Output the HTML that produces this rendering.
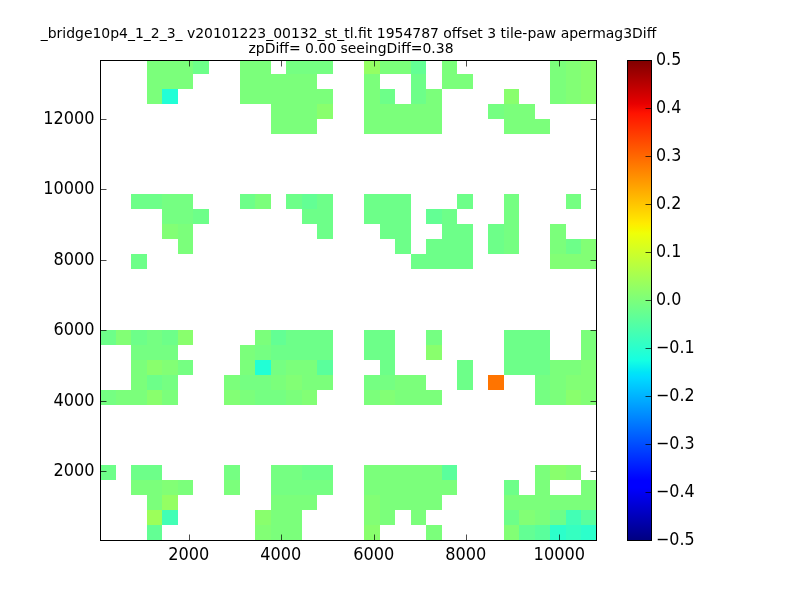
<!DOCTYPE html>
<html><head><meta charset="utf-8"><title>plot</title>
<style>html,body{margin:0;padding:0;background:#fff;width:800px;height:600px;overflow:hidden}</style></head>
<body>
<svg width="800" height="600" viewBox="0 0 800 600" style="position:absolute;left:0;top:0">
<defs><linearGradient id="jet" x1="0" y1="0" x2="0" y2="1"><stop offset="0.0000" stop-color="#800000"/><stop offset="0.0900" stop-color="#e80000"/><stop offset="0.1100" stop-color="#ff1300"/><stop offset="0.3400" stop-color="#ffec00"/><stop offset="0.3500" stop-color="#f7f600"/><stop offset="0.3600" stop-color="#efff08"/><stop offset="0.6250" stop-color="#15ffe2"/><stop offset="0.6500" stop-color="#00e5f7"/><stop offset="0.6600" stop-color="#00dbff"/><stop offset="0.8750" stop-color="#0000ff"/><stop offset="0.8900" stop-color="#0000ff"/><stop offset="1.0000" stop-color="#000080"/></linearGradient><clipPath id="ax"><rect x="100" y="60" width="496" height="480"/></clipPath></defs>
<g clip-path="url(#ax)"><rect x="147" y="60" width="15" height="14" fill="#7bff7b"/><rect x="162" y="60" width="16" height="14" fill="#7bff7b"/><rect x="178" y="60" width="15" height="14" fill="#7bff7b"/><rect x="193" y="60" width="16" height="14" fill="#6dff89"/><rect x="240" y="60" width="15" height="14" fill="#7bff7b"/><rect x="255" y="60" width="16" height="14" fill="#7bff7b"/><rect x="286" y="60" width="16" height="14" fill="#75ff82"/><rect x="302" y="60" width="15" height="14" fill="#75ff82"/><rect x="317" y="60" width="16" height="14" fill="#75ff82"/><rect x="364" y="60" width="16" height="14" fill="#94ff63"/><rect x="380" y="60" width="15" height="14" fill="#7bff7b"/><rect x="395" y="60" width="16" height="14" fill="#7bff7b"/><rect x="411" y="60" width="15" height="14" fill="#63ff94"/><rect x="442" y="60" width="15" height="14" fill="#7bff7b"/><rect x="550" y="60" width="16" height="14" fill="#7bff7b"/><rect x="566" y="60" width="15" height="14" fill="#82ff75"/><rect x="581" y="60" width="15" height="14" fill="#89ff6d"/><rect x="147" y="74" width="15" height="15" fill="#7bff7b"/><rect x="162" y="74" width="16" height="15" fill="#7bff7b"/><rect x="178" y="74" width="15" height="15" fill="#7bff7b"/><rect x="240" y="74" width="15" height="15" fill="#7bff7b"/><rect x="255" y="74" width="16" height="15" fill="#7bff7b"/><rect x="271" y="74" width="15" height="15" fill="#7bff7b"/><rect x="286" y="74" width="16" height="15" fill="#7bff7b"/><rect x="302" y="74" width="15" height="15" fill="#7bff7b"/><rect x="364" y="74" width="16" height="15" fill="#7bff7b"/><rect x="411" y="74" width="15" height="15" fill="#6dff89"/><rect x="442" y="74" width="15" height="15" fill="#7bff7b"/><rect x="457" y="74" width="16" height="15" fill="#7bff7b"/><rect x="550" y="74" width="16" height="15" fill="#7bff7b"/><rect x="566" y="74" width="15" height="15" fill="#82ff75"/><rect x="581" y="74" width="15" height="15" fill="#89ff6d"/><rect x="147" y="89" width="15" height="15" fill="#7bff7b"/><rect x="162" y="89" width="16" height="15" fill="#21ffd6"/><rect x="240" y="89" width="15" height="15" fill="#7bff7b"/><rect x="255" y="89" width="16" height="15" fill="#7bff7b"/><rect x="271" y="89" width="15" height="15" fill="#7bff7b"/><rect x="286" y="89" width="16" height="15" fill="#7bff7b"/><rect x="302" y="89" width="15" height="15" fill="#7bff7b"/><rect x="317" y="89" width="16" height="15" fill="#7bff7b"/><rect x="364" y="89" width="16" height="15" fill="#7bff7b"/><rect x="380" y="89" width="15" height="15" fill="#6dff89"/><rect x="411" y="89" width="15" height="15" fill="#6dff89"/><rect x="426" y="89" width="16" height="15" fill="#7bff7b"/><rect x="504" y="89" width="15" height="15" fill="#89ff6d"/><rect x="550" y="89" width="16" height="15" fill="#7bff7b"/><rect x="566" y="89" width="15" height="15" fill="#82ff75"/><rect x="581" y="89" width="15" height="15" fill="#89ff6d"/><rect x="271" y="104" width="15" height="15" fill="#7bff7b"/><rect x="286" y="104" width="16" height="15" fill="#7bff7b"/><rect x="302" y="104" width="15" height="15" fill="#7bff7b"/><rect x="317" y="104" width="16" height="15" fill="#89ff6d"/><rect x="364" y="104" width="16" height="15" fill="#7bff7b"/><rect x="380" y="104" width="15" height="15" fill="#7bff7b"/><rect x="395" y="104" width="16" height="15" fill="#7bff7b"/><rect x="411" y="104" width="15" height="15" fill="#7bff7b"/><rect x="426" y="104" width="16" height="15" fill="#7bff7b"/><rect x="488" y="104" width="16" height="15" fill="#75ff82"/><rect x="504" y="104" width="15" height="15" fill="#7bff7b"/><rect x="519" y="104" width="16" height="15" fill="#7bff7b"/><rect x="271" y="119" width="15" height="15" fill="#7bff7b"/><rect x="286" y="119" width="16" height="15" fill="#7bff7b"/><rect x="302" y="119" width="15" height="15" fill="#7bff7b"/><rect x="364" y="119" width="16" height="15" fill="#7bff7b"/><rect x="380" y="119" width="15" height="15" fill="#7bff7b"/><rect x="395" y="119" width="16" height="15" fill="#7bff7b"/><rect x="411" y="119" width="15" height="15" fill="#7bff7b"/><rect x="426" y="119" width="16" height="15" fill="#7bff7b"/><rect x="504" y="119" width="15" height="15" fill="#7bff7b"/><rect x="519" y="119" width="16" height="15" fill="#7bff7b"/><rect x="535" y="119" width="15" height="15" fill="#7bff7b"/><rect x="131" y="194" width="16" height="15" fill="#6dff89"/><rect x="147" y="194" width="15" height="15" fill="#6dff89"/><rect x="162" y="194" width="16" height="15" fill="#75ff82"/><rect x="178" y="194" width="15" height="15" fill="#75ff82"/><rect x="240" y="194" width="15" height="15" fill="#6dff89"/><rect x="255" y="194" width="16" height="15" fill="#7bff7b"/><rect x="286" y="194" width="16" height="15" fill="#6dff89"/><rect x="302" y="194" width="15" height="15" fill="#63ff94"/><rect x="317" y="194" width="16" height="15" fill="#6dff89"/><rect x="364" y="194" width="16" height="15" fill="#6dff89"/><rect x="380" y="194" width="15" height="15" fill="#6dff89"/><rect x="395" y="194" width="16" height="15" fill="#6dff89"/><rect x="457" y="194" width="16" height="15" fill="#6dff89"/><rect x="504" y="194" width="15" height="15" fill="#75ff82"/><rect x="566" y="194" width="15" height="15" fill="#75ff82"/><rect x="162" y="209" width="16" height="15" fill="#75ff82"/><rect x="178" y="209" width="15" height="15" fill="#75ff82"/><rect x="193" y="209" width="16" height="15" fill="#6dff89"/><rect x="302" y="209" width="15" height="15" fill="#6dff89"/><rect x="317" y="209" width="16" height="15" fill="#6dff89"/><rect x="364" y="209" width="16" height="15" fill="#6dff89"/><rect x="380" y="209" width="15" height="15" fill="#6dff89"/><rect x="395" y="209" width="16" height="15" fill="#6dff89"/><rect x="426" y="209" width="16" height="15" fill="#63ff94"/><rect x="442" y="209" width="15" height="15" fill="#6dff89"/><rect x="504" y="209" width="15" height="15" fill="#75ff82"/><rect x="162" y="224" width="16" height="15" fill="#82ff75"/><rect x="178" y="224" width="15" height="15" fill="#7bff7b"/><rect x="317" y="224" width="16" height="15" fill="#6dff89"/><rect x="380" y="224" width="15" height="15" fill="#6dff89"/><rect x="395" y="224" width="16" height="15" fill="#6dff89"/><rect x="442" y="224" width="15" height="15" fill="#6dff89"/><rect x="457" y="224" width="16" height="15" fill="#6dff89"/><rect x="488" y="224" width="16" height="15" fill="#6dff89"/><rect x="504" y="224" width="15" height="15" fill="#75ff82"/><rect x="550" y="224" width="16" height="15" fill="#7bff7b"/><rect x="178" y="239" width="15" height="15" fill="#7bff7b"/><rect x="395" y="239" width="16" height="15" fill="#6dff89"/><rect x="426" y="239" width="16" height="15" fill="#6dff89"/><rect x="442" y="239" width="15" height="15" fill="#6dff89"/><rect x="457" y="239" width="16" height="15" fill="#6dff89"/><rect x="488" y="239" width="16" height="15" fill="#6dff89"/><rect x="504" y="239" width="15" height="15" fill="#75ff82"/><rect x="550" y="239" width="16" height="15" fill="#7bff7b"/><rect x="566" y="239" width="15" height="15" fill="#6dff89"/><rect x="581" y="239" width="15" height="15" fill="#82ff75"/><rect x="131" y="254" width="16" height="15" fill="#6dff89"/><rect x="411" y="254" width="15" height="15" fill="#6dff89"/><rect x="426" y="254" width="16" height="15" fill="#6dff89"/><rect x="442" y="254" width="15" height="15" fill="#6dff89"/><rect x="457" y="254" width="16" height="15" fill="#6dff89"/><rect x="550" y="254" width="16" height="15" fill="#82ff75"/><rect x="566" y="254" width="15" height="15" fill="#82ff75"/><rect x="581" y="254" width="15" height="15" fill="#82ff75"/><rect x="100" y="330" width="16" height="15" fill="#6dff89"/><rect x="116" y="330" width="15" height="15" fill="#82ff75"/><rect x="131" y="330" width="16" height="15" fill="#6dff89"/><rect x="147" y="330" width="15" height="15" fill="#75ff82"/><rect x="162" y="330" width="16" height="15" fill="#6dff89"/><rect x="178" y="330" width="15" height="15" fill="#89ff6d"/><rect x="255" y="330" width="16" height="15" fill="#7bff7b"/><rect x="271" y="330" width="15" height="15" fill="#63ff94"/><rect x="286" y="330" width="16" height="15" fill="#6dff89"/><rect x="302" y="330" width="15" height="15" fill="#6dff89"/><rect x="317" y="330" width="16" height="15" fill="#6dff89"/><rect x="364" y="330" width="16" height="15" fill="#6dff89"/><rect x="380" y="330" width="15" height="15" fill="#6dff89"/><rect x="426" y="330" width="16" height="15" fill="#75ff82"/><rect x="504" y="330" width="15" height="15" fill="#6dff89"/><rect x="519" y="330" width="16" height="15" fill="#6dff89"/><rect x="535" y="330" width="15" height="15" fill="#6dff89"/><rect x="581" y="330" width="15" height="15" fill="#7bff7b"/><rect x="131" y="345" width="16" height="15" fill="#75ff82"/><rect x="147" y="345" width="15" height="15" fill="#75ff82"/><rect x="162" y="345" width="16" height="15" fill="#75ff82"/><rect x="240" y="345" width="15" height="15" fill="#7bff7b"/><rect x="255" y="345" width="16" height="15" fill="#75ff82"/><rect x="271" y="345" width="15" height="15" fill="#6dff89"/><rect x="286" y="345" width="16" height="15" fill="#6dff89"/><rect x="302" y="345" width="15" height="15" fill="#6dff89"/><rect x="317" y="345" width="16" height="15" fill="#6dff89"/><rect x="364" y="345" width="16" height="15" fill="#6dff89"/><rect x="380" y="345" width="15" height="15" fill="#6dff89"/><rect x="426" y="345" width="16" height="15" fill="#89ff6d"/><rect x="504" y="345" width="15" height="15" fill="#6dff89"/><rect x="519" y="345" width="16" height="15" fill="#6dff89"/><rect x="535" y="345" width="15" height="15" fill="#6dff89"/><rect x="581" y="345" width="15" height="15" fill="#7bff7b"/><rect x="131" y="360" width="16" height="15" fill="#7bff7b"/><rect x="147" y="360" width="15" height="15" fill="#89ff6d"/><rect x="162" y="360" width="16" height="15" fill="#82ff75"/><rect x="178" y="360" width="15" height="15" fill="#75ff82"/><rect x="240" y="360" width="15" height="15" fill="#7bff7b"/><rect x="255" y="360" width="16" height="15" fill="#21ffd6"/><rect x="271" y="360" width="15" height="15" fill="#75ff82"/><rect x="286" y="360" width="16" height="15" fill="#7bff7b"/><rect x="302" y="360" width="15" height="15" fill="#7bff7b"/><rect x="317" y="360" width="16" height="15" fill="#5aff9c"/><rect x="380" y="360" width="15" height="15" fill="#6dff89"/><rect x="457" y="360" width="16" height="15" fill="#6dff89"/><rect x="504" y="360" width="15" height="15" fill="#6dff89"/><rect x="519" y="360" width="16" height="15" fill="#6dff89"/><rect x="535" y="360" width="15" height="15" fill="#6dff89"/><rect x="550" y="360" width="16" height="15" fill="#7bff7b"/><rect x="566" y="360" width="15" height="15" fill="#7bff7b"/><rect x="581" y="360" width="15" height="15" fill="#82ff75"/><rect x="131" y="375" width="16" height="15" fill="#7bff7b"/><rect x="147" y="375" width="15" height="15" fill="#6dff89"/><rect x="162" y="375" width="16" height="15" fill="#75ff82"/><rect x="224" y="375" width="16" height="15" fill="#7bff7b"/><rect x="240" y="375" width="15" height="15" fill="#75ff82"/><rect x="255" y="375" width="16" height="15" fill="#75ff82"/><rect x="271" y="375" width="15" height="15" fill="#7bff7b"/><rect x="286" y="375" width="16" height="15" fill="#82ff75"/><rect x="302" y="375" width="15" height="15" fill="#7bff7b"/><rect x="317" y="375" width="16" height="15" fill="#7bff7b"/><rect x="364" y="375" width="16" height="15" fill="#75ff82"/><rect x="380" y="375" width="15" height="15" fill="#75ff82"/><rect x="395" y="375" width="16" height="15" fill="#7bff7b"/><rect x="411" y="375" width="15" height="15" fill="#7bff7b"/><rect x="457" y="375" width="16" height="15" fill="#6dff89"/><rect x="488" y="375" width="16" height="15" fill="#ff7400"/><rect x="535" y="375" width="15" height="15" fill="#75ff82"/><rect x="550" y="375" width="16" height="15" fill="#7bff7b"/><rect x="566" y="375" width="15" height="15" fill="#82ff75"/><rect x="581" y="375" width="15" height="15" fill="#82ff75"/><rect x="100" y="390" width="16" height="15" fill="#75ff82"/><rect x="116" y="390" width="15" height="15" fill="#7bff7b"/><rect x="131" y="390" width="16" height="15" fill="#7bff7b"/><rect x="147" y="390" width="15" height="15" fill="#89ff6d"/><rect x="162" y="390" width="16" height="15" fill="#7bff7b"/><rect x="224" y="390" width="16" height="15" fill="#82ff75"/><rect x="240" y="390" width="15" height="15" fill="#7bff7b"/><rect x="255" y="390" width="16" height="15" fill="#75ff82"/><rect x="271" y="390" width="15" height="15" fill="#75ff82"/><rect x="286" y="390" width="16" height="15" fill="#7bff7b"/><rect x="302" y="390" width="15" height="15" fill="#82ff75"/><rect x="364" y="390" width="16" height="15" fill="#7bff7b"/><rect x="380" y="390" width="15" height="15" fill="#82ff75"/><rect x="395" y="390" width="16" height="15" fill="#7bff7b"/><rect x="411" y="390" width="15" height="15" fill="#7bff7b"/><rect x="426" y="390" width="16" height="15" fill="#7bff7b"/><rect x="535" y="390" width="15" height="15" fill="#75ff82"/><rect x="550" y="390" width="16" height="15" fill="#7bff7b"/><rect x="566" y="390" width="15" height="15" fill="#89ff6d"/><rect x="581" y="390" width="15" height="15" fill="#82ff75"/><rect x="100" y="465" width="16" height="15" fill="#6dff89"/><rect x="131" y="465" width="16" height="15" fill="#6dff89"/><rect x="147" y="465" width="15" height="15" fill="#6dff89"/><rect x="224" y="465" width="16" height="15" fill="#75ff82"/><rect x="271" y="465" width="15" height="15" fill="#75ff82"/><rect x="286" y="465" width="16" height="15" fill="#75ff82"/><rect x="302" y="465" width="15" height="15" fill="#6dff89"/><rect x="317" y="465" width="16" height="15" fill="#6dff89"/><rect x="364" y="465" width="16" height="15" fill="#7bff7b"/><rect x="380" y="465" width="15" height="15" fill="#7bff7b"/><rect x="395" y="465" width="16" height="15" fill="#7bff7b"/><rect x="411" y="465" width="15" height="15" fill="#7bff7b"/><rect x="426" y="465" width="16" height="15" fill="#7bff7b"/><rect x="442" y="465" width="15" height="15" fill="#5aff9c"/><rect x="535" y="465" width="15" height="15" fill="#7bff7b"/><rect x="550" y="465" width="16" height="15" fill="#89ff6d"/><rect x="566" y="465" width="15" height="15" fill="#82ff75"/><rect x="131" y="480" width="16" height="15" fill="#7bff7b"/><rect x="147" y="480" width="15" height="15" fill="#7bff7b"/><rect x="162" y="480" width="16" height="15" fill="#82ff75"/><rect x="178" y="480" width="15" height="15" fill="#7bff7b"/><rect x="224" y="480" width="16" height="15" fill="#7bff7b"/><rect x="271" y="480" width="15" height="15" fill="#75ff82"/><rect x="286" y="480" width="16" height="15" fill="#75ff82"/><rect x="302" y="480" width="15" height="15" fill="#75ff82"/><rect x="317" y="480" width="16" height="15" fill="#75ff82"/><rect x="364" y="480" width="16" height="15" fill="#7bff7b"/><rect x="380" y="480" width="15" height="15" fill="#7bff7b"/><rect x="395" y="480" width="16" height="15" fill="#7bff7b"/><rect x="411" y="480" width="15" height="15" fill="#7bff7b"/><rect x="426" y="480" width="16" height="15" fill="#7bff7b"/><rect x="442" y="480" width="15" height="15" fill="#7bff7b"/><rect x="504" y="480" width="15" height="15" fill="#6dff89"/><rect x="535" y="480" width="15" height="15" fill="#7bff7b"/><rect x="581" y="480" width="15" height="15" fill="#7bff7b"/><rect x="147" y="495" width="15" height="15" fill="#7bff7b"/><rect x="162" y="495" width="16" height="15" fill="#94ff63"/><rect x="271" y="495" width="15" height="15" fill="#7bff7b"/><rect x="286" y="495" width="16" height="15" fill="#7bff7b"/><rect x="302" y="495" width="15" height="15" fill="#7bff7b"/><rect x="364" y="495" width="16" height="15" fill="#82ff75"/><rect x="380" y="495" width="15" height="15" fill="#7bff7b"/><rect x="395" y="495" width="16" height="15" fill="#7bff7b"/><rect x="411" y="495" width="15" height="15" fill="#7bff7b"/><rect x="426" y="495" width="16" height="15" fill="#7bff7b"/><rect x="504" y="495" width="15" height="15" fill="#7bff7b"/><rect x="519" y="495" width="16" height="15" fill="#7bff7b"/><rect x="535" y="495" width="15" height="15" fill="#7bff7b"/><rect x="550" y="495" width="16" height="15" fill="#7bff7b"/><rect x="566" y="495" width="15" height="15" fill="#7bff7b"/><rect x="581" y="495" width="15" height="15" fill="#7bff7b"/><rect x="147" y="510" width="15" height="15" fill="#9cff5a"/><rect x="162" y="510" width="16" height="15" fill="#42ffb5"/><rect x="255" y="510" width="16" height="15" fill="#89ff6d"/><rect x="271" y="510" width="15" height="15" fill="#7bff7b"/><rect x="286" y="510" width="16" height="15" fill="#7bff7b"/><rect x="364" y="510" width="16" height="15" fill="#82ff75"/><rect x="380" y="510" width="15" height="15" fill="#7bff7b"/><rect x="411" y="510" width="15" height="15" fill="#7bff7b"/><rect x="504" y="510" width="15" height="15" fill="#6dff89"/><rect x="519" y="510" width="16" height="15" fill="#82ff75"/><rect x="535" y="510" width="15" height="15" fill="#7bff7b"/><rect x="550" y="510" width="16" height="15" fill="#6dff89"/><rect x="566" y="510" width="15" height="15" fill="#42ffb5"/><rect x="581" y="510" width="15" height="15" fill="#5aff9c"/><rect x="147" y="525" width="15" height="15" fill="#63ff94"/><rect x="255" y="525" width="16" height="15" fill="#82ff75"/><rect x="271" y="525" width="15" height="15" fill="#7bff7b"/><rect x="286" y="525" width="16" height="15" fill="#7bff7b"/><rect x="364" y="525" width="16" height="15" fill="#89ff6d"/><rect x="426" y="525" width="16" height="15" fill="#7bff7b"/><rect x="504" y="525" width="15" height="15" fill="#82ff75"/><rect x="519" y="525" width="16" height="15" fill="#63ff94"/><rect x="535" y="525" width="15" height="15" fill="#5aff9c"/><rect x="550" y="525" width="16" height="15" fill="#2cffcb"/><rect x="566" y="525" width="15" height="15" fill="#35ffc1"/><rect x="581" y="525" width="15" height="15" fill="#2cffcb"/></g>
<rect x="100.5" y="60.5" width="496" height="480" fill="none" stroke="#000" stroke-width="1"/>
<g stroke="#000" stroke-width="0.7" fill="none"><path d="M189.5 540v-5.5M189.5 61v5.5"/><path d="M281.5 540v-5.5M281.5 61v5.5"/><path d="M374.5 540v-5.5M374.5 61v5.5"/><path d="M466.5 540v-5.5M466.5 61v5.5"/><path d="M559.5 540v-5.5M559.5 61v5.5"/><path d="M101 119.5h5.5M596 119.5h-5.5"/><path d="M101 189.5h5.5M596 189.5h-5.5"/><path d="M101 260.5h5.5M596 260.5h-5.5"/><path d="M101 330.5h5.5M596 330.5h-5.5"/><path d="M101 401.5h5.5M596 401.5h-5.5"/><path d="M101 471.5h5.5M596 471.5h-5.5"/></g>
<rect x="627.5" y="60.5" width="24" height="480" fill="url(#jet)" stroke="#000" stroke-width="1"/>
<g stroke="#000" stroke-width="0.7" fill="none"><path d="M651 108.5h-5.5"/><path d="M651 156.5h-5.5"/><path d="M651 204.5h-5.5"/><path d="M651 252.5h-5.5"/><path d="M651 300.5h-5.5"/><path d="M651 348.5h-5.5"/><path d="M651 396.5h-5.5"/><path d="M651 444.5h-5.5"/><path d="M651 492.5h-5.5"/></g>
<g font-family="'DejaVu Sans','Liberation Sans',sans-serif" fill="#000"><g font-size="16.67px" text-anchor="middle"><text transform="translate(188.8,560.2) scale(0.97,1.05)">2000</text><text transform="translate(280.8,560.2) scale(0.97,1.05)">4000</text><text transform="translate(373.8,560.2) scale(0.97,1.05)">6000</text><text transform="translate(465.8,560.2) scale(0.97,1.05)">8000</text><text transform="translate(559.3,560.2) scale(0.97,1.05)">10000</text></g><g font-size="16.67px" text-anchor="end"><text transform="translate(94.6,123.7) scale(0.97,1.05)">12000</text><text transform="translate(94.6,193.7) scale(0.97,1.05)">10000</text><text transform="translate(94.6,264.7) scale(0.97,1.05)">8000</text><text transform="translate(94.6,334.7) scale(0.97,1.05)">6000</text><text transform="translate(94.6,405.7) scale(0.97,1.05)">4000</text><text transform="translate(94.6,475.7) scale(0.97,1.05)">2000</text></g><g font-size="16.67px"><text transform="translate(656,64.7) scale(0.955,1.05)">0.5</text><text transform="translate(656,112.7) scale(0.955,1.05)">0.4</text><text transform="translate(656,160.7) scale(0.955,1.05)">0.3</text><text transform="translate(656,208.7) scale(0.955,1.05)">0.2</text><text transform="translate(656,256.7) scale(0.955,1.05)">0.1</text><text transform="translate(656,304.7) scale(0.955,1.05)">0.0</text><text transform="translate(656,352.7) scale(0.955,1.05)">−0.1</text><text transform="translate(656,400.7) scale(0.955,1.05)">−0.2</text><text transform="translate(656,448.7) scale(0.955,1.05)">−0.3</text><text transform="translate(656,496.7) scale(0.955,1.05)">−0.4</text><text transform="translate(656,544.7) scale(0.955,1.05)">−0.5</text></g><g font-size="13.96px" text-anchor="middle"><text x="348.5" y="37.8">_bridge10p4_1_2_3_ v20101223_00132_st_tl.fit 1954787 offset 3 tile-paw apermag3Diff</text><text x="351" y="52.8">zpDiff= 0.00 seeingDiff=0.38</text></g></g>
</svg>
</body></html>
